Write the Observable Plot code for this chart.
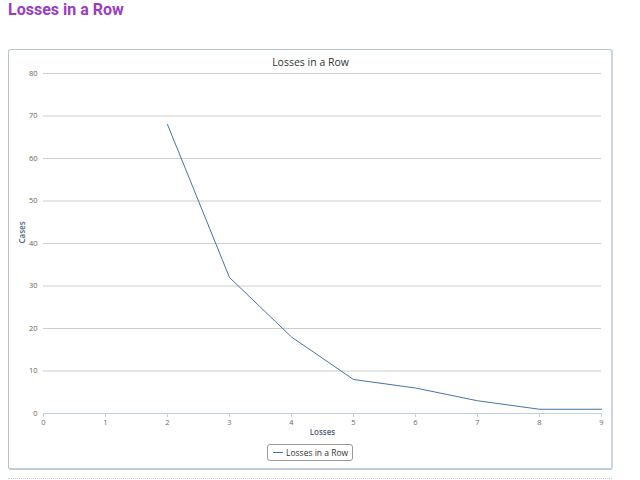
<!DOCTYPE html>
<html>
<head>
<meta charset="utf-8">
<script src="https://cdn.jsdelivr.net/npm/d3@7"></script>
<script src="https://cdn.jsdelivr.net/npm/@observablehq/plot@0.6"></script>
<style>
  html, body { margin: 0; padding: 0; background: #fff; }
  #wrap { position: relative; width: 640px; height: 480px; overflow: hidden; }
  #pagetitle { position: absolute; left: 8px; top: 0px; font: bold 16px Roboto, sans-serif; color: #9b3bc2; line-height: 20px; }
  #box { position: absolute; left: 8px; top: 49px; width: 602px; height: 418px; border: 1px solid #b9c4cf; border-right: 2px solid #c9d6e4; border-bottom: 2px solid #c0cbd8; border-radius: 3px; }
  #dots { position: absolute; left: 8px; top: 478px; width: 604px; border-top: 1px dotted #ccc; }
  #chart { position: absolute; left: 0; top: 0; }
  #legend { position: absolute; left: 267px; top: 444px; width: 84px; height: 15px; border: 1px solid #999; border-radius: 3px; font: 8.5px "Open Sans", sans-serif; color: #333; display: flex; align-items: center; }
  #legend .sw { width: 10px; height: 0; border-top: 1px solid #4572a7; margin: 0 3px 0 5px; }
</style>
</head>
<body>
<div id="wrap">
  <div id="pagetitle">Losses in a Row</div>
  <div id="box"></div>
  <div id="chart"></div>
  <div id="legend"><span class="sw"></span><span>Losses in a Row</span></div>
  <div id="dots"></div>
</div>
<script>
const chartTitle = "Losses in a Row";
const seriesName = "Losses in a Row";
const xLabel = "Losses";
const yLabel = "Cases";
const lossesInRow = [2, 3, 4, 5, 6, 7, 8, 9];
const cases = [68, 32, 18, 8, 6, 3, 1, 1];
const xTicks = [0, 1, 2, 3, 4, 5, 6, 7, 8, 9];
const yTicks = [0, 10, 20, 30, 40, 50, 60, 70, 80];

const data = lossesInRow.map((x, i) => ({x, y: cases[i]}));

const chart = Plot.plot({
  width: 640,
  height: 480,
  marginLeft: 43,
  marginRight: 39,
  marginTop: 73,
  marginBottom: 67,
  style: {background: "transparent", fontFamily: "'Open Sans', sans-serif"},
  x: {domain: [0, 9]},
  y: {domain: [0, 80]},
  marks: [
    Plot.gridY(yTicks, {stroke: "#cccccc", strokeOpacity: 1}),
    Plot.axisY(yTicks, {tickSize: 0, tickPadding: 6, fontSize: 7.5, fill: "#6e6250", label: null}),
    Plot.ruleY([0], {stroke: "#c0d0e0"}),
    Plot.axisX(xTicks, {tickSize: 4, tickPadding: 2, fontSize: 7.5, stroke: "#c0d0e0", fill: "#6a6a6a", label: null}),
    Plot.line(data, {x: "x", y: "y", stroke: "#4572a7", strokeWidth: 1}),
    Plot.text([chartTitle], {frameAnchor: "top", dx: -12, dy: -15, fontSize: 10.5, fill: "#333"}),
    Plot.text([xLabel], {frameAnchor: "bottom", dy: 21, fontSize: 8, fontWeight: 600, fill: "#4d5f80"}),
    Plot.text([yLabel], {frameAnchor: "left", dx: -21, rotate: -90, fontSize: 8, fontWeight: 600, fill: "#4d5f80"})
  ]
});
document.getElementById("chart").appendChild(chart);
</script>
</body>
</html>
